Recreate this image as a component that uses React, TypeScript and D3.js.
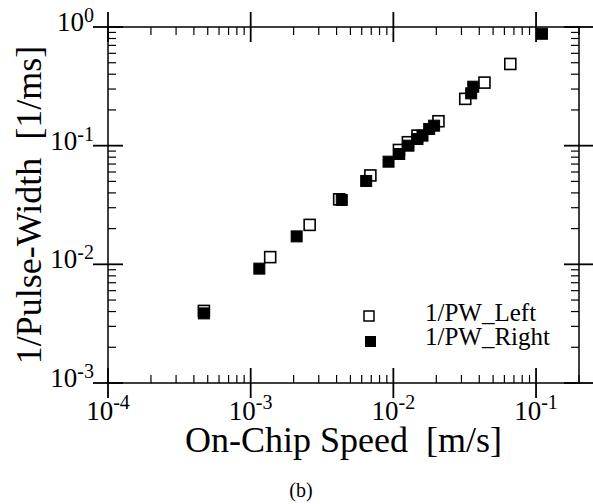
import React from "react";
import * as d3 from "d3";

// on-chip speed [m/s] and 1/pulse-width [1/ms]
const speedLeft = [0.00047, 0.00137, 0.00259, 0.00417, 0.0069, 0.01094, 0.01264, 0.01476, 0.0207, 0.0319, 0.0435, 0.066];
const pwLeft = [0.00405, 0.0115, 0.0215, 0.0353, 0.0561, 0.092, 0.1069, 0.1215, 0.1606, 0.248, 0.34, 0.488];

const speedRight = [0.00047, 0.00115, 0.0021, 0.00435, 0.00645, 0.00925, 0.011, 0.01276, 0.01476, 0.016, 0.01783, 0.0193, 0.0351, 0.0363, 0.11];
const pwRight = [0.00386, 0.0092, 0.0172, 0.0349, 0.0504, 0.0733, 0.0851, 0.1, 0.1138, 0.1215, 0.1383, 0.1474, 0.276, 0.314, 0.877];

const xMajor = [1e-4, 1e-3, 1e-2, 1e-1];
const xTickExp = ["-4", "-3", "-2", "-1"];
const yMajor = [1, 1e-1, 1e-2, 1e-3];
const yTickExp = ["0", "-1", "-2", "-3"];
const legendLabels = ["1/PW_Left", "1/PW_Right"];

const font = "'Liberation Serif', 'Times New Roman', serif";

const App = () => {
  const left = 108, right = 579, top = 27, bottom = 383;
  const x = d3.scaleLog().domain([1e-4, 0.2]).range([left, right]);
  const y = d3.scaleLog().domain([1e-3, 1]).range([bottom, top]);

  const xMinor: number[] = [];
  xMajor.forEach((d) => {
    for (let m = 2; m <= 9; m++) if (d * m <= 0.2 + 1e-9) xMinor.push(d * m);
  });
  const yMinor: number[] = [];
  yMajor.slice(1).forEach((d) => {
    for (let m = 2; m <= 9; m++) yMinor.push(d * m);
  });

  const big = 15, small = 8;
  const sq = 11;
  const left_pts = d3.zip(speedLeft, pwLeft);
  const right_pts = d3.zip(speedRight, pwRight);

  return (
    <svg width={593} height={504} style={{ position: "absolute", left: 0, top: 0, background: "#fff" }} fontFamily={font}>
      <rect x={left} y={top} width={right - left} height={bottom - top} fill="none" stroke="#000" strokeWidth={1.5} />

      {/* minor ticks, inward */}
      {xMinor.map((d, i) => (
        <g key={"xm" + i} stroke="#000" strokeWidth={1.2}>
          <line x1={x(d)} x2={x(d)} y1={bottom} y2={bottom - small} />
          <line x1={x(d)} x2={x(d)} y1={top} y2={top + small} />
        </g>
      ))}
      {yMinor.map((d, i) => (
        <g key={"ym" + i} stroke="#000" strokeWidth={1.2}>
          <line x1={left} x2={left + small} y1={y(d)} y2={y(d)} />
          <line x1={right} x2={right - small} y1={y(d)} y2={y(d)} />
        </g>
      ))}

      {/* major ticks, both sides */}
      {xMajor.map((d, i) => (
        <g key={"xM" + i} stroke="#000" strokeWidth={1.8}>
          <line x1={x(d)} x2={x(d)} y1={bottom + big} y2={bottom - big} />
          <line x1={x(d)} x2={x(d)} y1={top - big} y2={top + big} />
        </g>
      ))}
      {yMajor.map((d, i) => (
        <g key={"yM" + i} stroke="#000" strokeWidth={1.8}>
          <line x1={left - big} x2={left + big} y1={y(d)} y2={y(d)} />
          <line x1={right - big} x2={right + big} y1={y(d)} y2={y(d)} />
        </g>
      ))}

      {/* tick labels */}
      {xMajor.map((d, i) => (
        <text key={"xl" + i} x={x(d)} y={420} textAnchor="middle" fontSize={27}>
          10<tspan fontSize={20} dy={-11}>{xTickExp[i]}</tspan>
        </text>
      ))}
      {yMajor.map((d, i) => (
        <text key={"yl" + i} x={94} y={y(d) + 4} textAnchor="end" fontSize={27}>
          10<tspan fontSize={20} dy={-9}>{yTickExp[i]}</tspan>
        </text>
      ))}

      {/* points */}
      {left_pts.map(([s, p], i) => (
        <rect key={"l" + i} x={x(s) - sq / 2} y={y(p) - sq / 2} width={sq} height={sq} fill="#fff" stroke="#000" strokeWidth={1.6} />
      ))}
      {right_pts.map(([s, p], i) => (
        <rect key={"r" + i} x={x(s) - sq / 2} y={y(p) - sq / 2} width={sq} height={sq} fill="#000" stroke="#000" strokeWidth={1} />
      ))}

      {/* legend */}
      <rect x={364} y={311} width={10} height={10} fill="#fff" stroke="#000" strokeWidth={1.5} />
      <rect x={365} y={336} width={11} height={11} fill="#000" />
      <text x={425} y={321} fontSize={25}>{legendLabels[0]}</text>
      <text x={425} y={345} fontSize={25}>{legendLabels[1]}</text>

      {/* axis titles */}
      <text x={(left + right) / 2} y={452} textAnchor="middle" fontSize={36} style={{ whiteSpace: "pre" }}>
        On-Chip Speed  [m/s]
      </text>
      <text transform={`translate(41,${(top + bottom) / 2}) rotate(-90)`} textAnchor="middle" fontSize={36} style={{ whiteSpace: "pre" }}>
        1/Pulse-Width  [1/ms]
      </text>
      <text x={301} y={497} textAnchor="middle" fontSize={20}>(b)</text>
    </svg>
  );
};

export default App;
